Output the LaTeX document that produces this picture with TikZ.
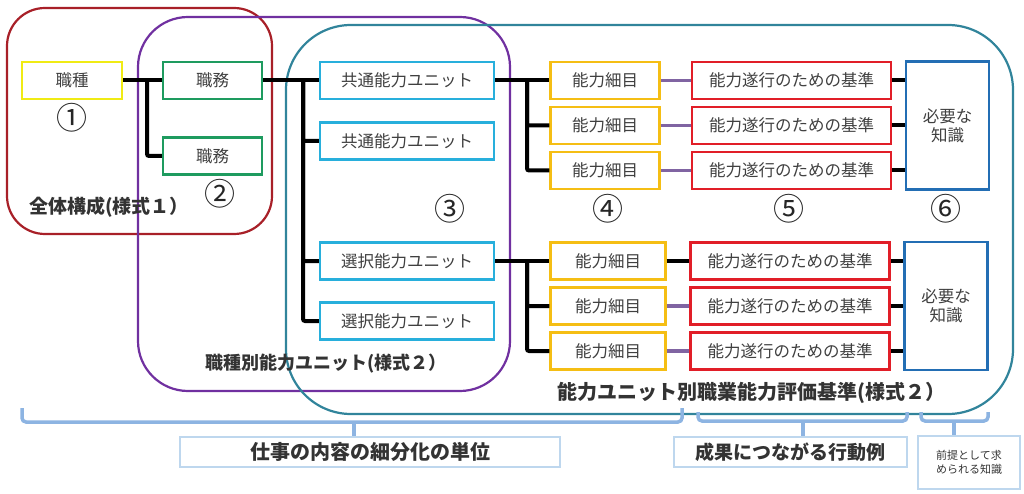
\documentclass[tikz,border=0pt]{standalone}
\usepackage{fontspec}
\setmainfont{Noto Sans CJK JP}
\usetikzlibrary{positioning}

\definecolor{frameRed}{RGB}{168,32,40}
\definecolor{framePurple}{RGB}{112,48,160}
\definecolor{frameTeal}{RGB}{49,132,155}
\definecolor{kindCol}{RGB}{240,235,20}
\definecolor{dutyCol}{RGB}{30,155,95}
\definecolor{unitCol}{RGB}{40,175,220}
\definecolor{itemCol}{RGB}{245,190,20}
\definecolor{critCol}{RGB}{225,30,40}
\definecolor{knowCol}{RGB}{35,110,180}
\definecolor{linkCol}{RGB}{128,100,162}
\definecolor{braceCol}{RGB}{141,180,226}
\definecolor{noteCol}{RGB}{190,215,238}
\definecolor{txtGray}{RGB}{64,64,64}

\begin{document}
\begin{tikzpicture}[x=1pt,y=-1pt,on grid,node distance=45pt,
  box/.style={draw,line width=2.4pt,inner sep=0pt,minimum height=37pt,text=txtGray,font=\fontsize{16.5}{19}\selectfont},
  kind/.style={box,draw=kindCol,minimum width=100pt},
  duty/.style={box,draw=dutyCol,minimum width=99pt},
  unit/.style={box,draw=unitCol,minimum width=174pt},
  item/.style={box,draw=itemCol,minimum width=109pt},
  crit/.style={box,draw=critCol,minimum width=199pt},
  know/.style={box,draw=knowCol,minimum width=83pt,minimum height=128pt,align=center},
  groupframe/.style={line width=2.2pt,rounded corners=#1},
  link/.style={line width=4pt,rounded corners=2pt},
  sublink/.style={line width=3.5pt,draw=linkCol},
  num/.style={font=\fontsize{31}{31}\selectfont,text=black!85},
  grouplabel/.style={font=\bfseries\fontsize{18}{20}\selectfont,text=black!80},
  brace/.style={line width=3.5pt,draw=braceCol,rounded corners=4pt},
  note/.style={draw=noteCol,line width=1.5pt,inner sep=0pt,text=black!80,minimum height=30pt}
]
\useasboundingbox (0,0) rectangle (1024,494);

% groups
\draw[groupframe=38pt,draw=frameRed] (7,8) rectangle (272,234);
\draw[groupframe=50pt,draw=framePurple] (138,17) rectangle (510,391);
\draw[groupframe=65pt,draw=frameTeal] (286,25) rectangle (1013,414);

% boxes
\node[kind] (kind) at (72,80.5) {職種};
\node[duty] (duty1) at (212.5,80.5) {職務};
\node[duty] (duty2) [below=75.5pt of duty1] {職務};

\node[unit] (common1) at (407,80.5) {共通能力ユニット};
\node[unit] (common2) [below=60.5pt of common1] {共通能力ユニット};
\node[unit] (select1) [below=180.5pt of common1] {選択能力ユニット};
\node[unit] (select2) [below=60pt of select1] {選択能力ユニット};

\node[item] (item1) at (605,80.5) {能力細目};
\node[item] (item2) [below=of item1] {能力細目};
\node[item] (item3) [below=of item2] {能力細目};
\node[item,minimum width=115pt] (item4) at (608,261) {能力細目};
\node[item,minimum width=115pt] (item5) [below=of item4] {能力細目};
\node[item,minimum width=115pt] (item6) [below=of item5] {能力細目};

\node[crit] (crit1) at (791.5,80.5) {能力遂行のための基準};
\node[crit] (crit2) [below=of crit1] {能力遂行のための基準};
\node[crit] (crit3) [below=of crit2] {能力遂行のための基準};
\node[crit] (crit4) at (790,261) {能力遂行のための基準};
\node[crit] (crit5) [below=of crit4] {能力遂行のための基準};
\node[crit] (crit6) [below=of crit5] {能力遂行のための基準};

\node[know] (know1) at (947.5,125.5) {必要な\\知識};
\node[know] (know2) at (946,306) {必要な\\知識};

% numbers
\node[num] (n1) at (72,118) {①};
\node[num] (n2) at (220,194) {②};
\node[num] (n3) at (450,209) {③};
\node[num] (n4) at (608,209) {④};
\node[num] (n5) at (789,209) {⑤};
\node[num] (n6) at (946,209) {⑥};

% group labels
\node[grouplabel,font=\bfseries\fontsize{19}{20}\selectfont] (lab1) at (109,207) {全体構成(様式１）};
\node[grouplabel] (lab2) at (326,364) {職種別能力ユニット(様式２）};
\node[grouplabel,font=\bfseries\fontsize{20}{22}\selectfont] (lab3) at (751,393) {能力ユニット別職業能力評価基準(様式２）};

% connectors
\coordinate (fork1) at (147,80.5);
\draw[link] (kind.east) -- (duty1.west);
\draw[link] (fork1) |- (duty2.west);

\coordinate (fork2) at (303,80.5);
\draw[link] (duty1.east) -- (common1.west);
\draw[link] (fork2) |- (common2.west);
\draw[link] (fork2) |- (select1.west);
\draw[link] (fork2) |- (select2.west);

\coordinate (fork3) at (527,80.5);
\draw[link] (common1.east) -- (item1.west);
\draw[link] (fork3) |- (item2.west);
\draw[link] (fork3) |- (item3.west);

\coordinate (fork4) at (527,261);
\draw[link] (select1.east) -- (item4.west);
\draw[link] (fork4) |- (item5.west);
\draw[link] (fork4) |- (item6.west);

\draw[sublink] (item1) -- (crit1);
\draw[sublink] (item2) -- (crit2);
\draw[sublink] (item3) -- (crit3);
\draw[link] (item4) -- (crit4);
\draw[sublink] (item5) -- (crit5);
\draw[sublink] (item6) -- (crit6);

\foreach \i in {1,2,3}
  \draw[link] (crit\i.east) -- (crit\i.east -| know1.west);
\foreach \i in {4,5,6}
  \draw[link] (crit\i.east) -- (crit\i.east -| know2.west);

% notes below
\node[note,minimum width=380pt,font=\bfseries\fontsize{20}{22}\selectfont] (workbox) at (370,452) {仕事の内容の細分化の単位};
\node[note,minimum width=233pt,font=\bfseries\fontsize{19}{22}\selectfont] (resultbox) at (790.5,452) {成果につながる行動例};
\node[note,minimum width=102pt,minimum height=53pt,align=center,font=\fontsize{11}{14}\selectfont] (premisebox) at (969,462.5) {前提として求\\められる知識};

% braces
\draw[brace] (22,408) -- (22,422) -- (682,422) -- (682,408);
\coordinate (braceA) at (354,422);
\draw[brace] (braceA) -- (braceA |- workbox.north);
\draw[brace] (698,412) -- (698,421) -- (907,421) -- (907,412);
\coordinate (braceB) at (803,421);
\draw[brace] (braceB) -- (braceB |- resultbox.north);
\draw[brace] (921,412) -- (921,421) -- (988,421) -- (988,412);
\coordinate (braceC) at (954,421);
\draw[brace] (braceC) -- (braceC |- premisebox.north);
\end{tikzpicture}
\end{document}
